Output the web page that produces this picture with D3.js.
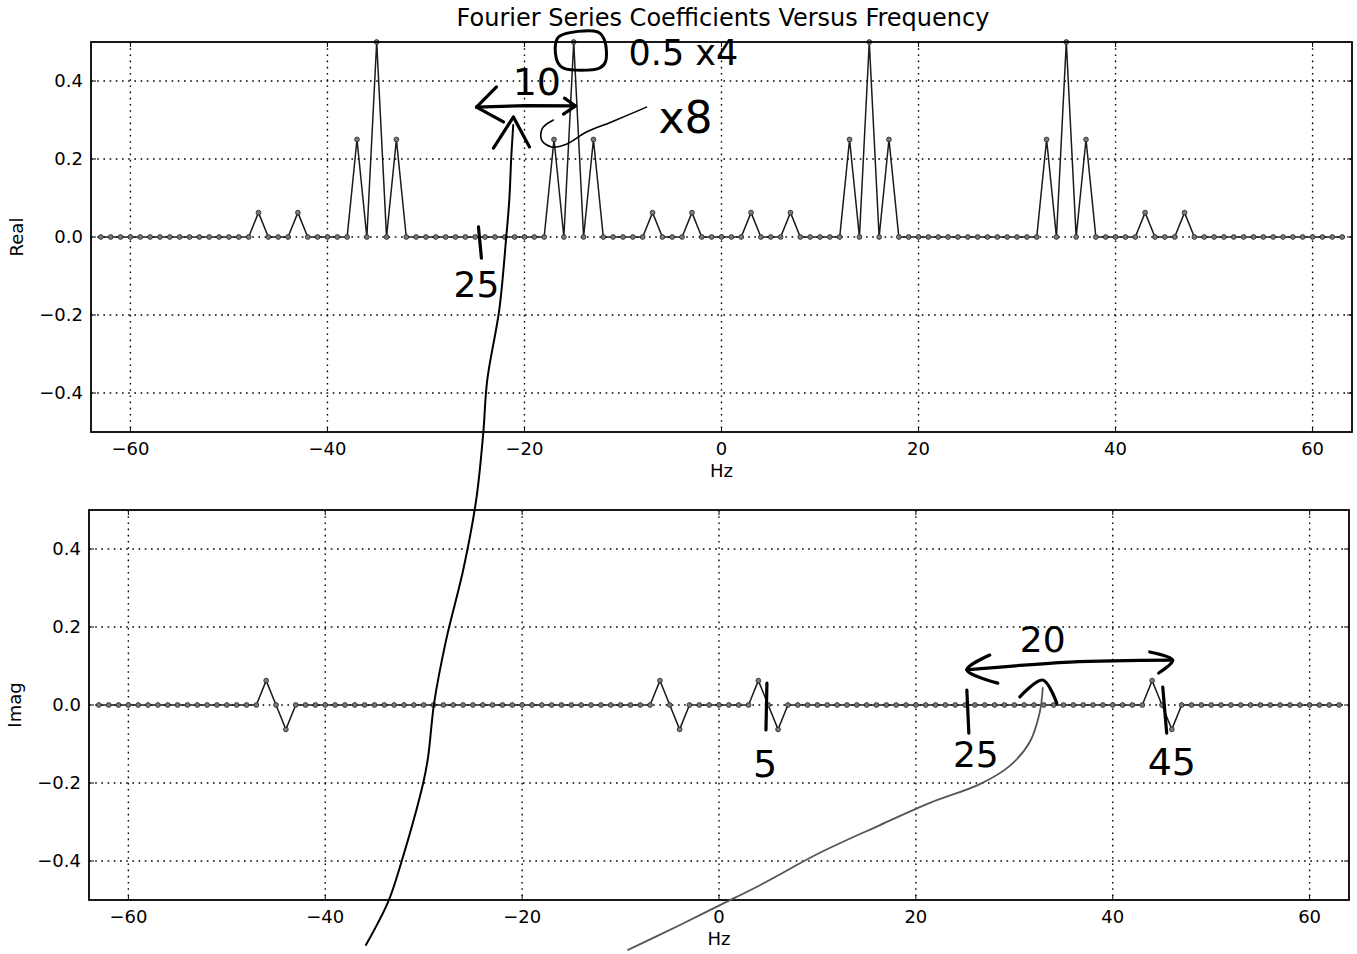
<!DOCTYPE html>
<html>
<head>
<meta charset="utf-8">
<script src="https://cdn.jsdelivr.net/npm/d3@7"></script>
<style>
  body { margin: 0; background: #fff; }
  svg { display: block; }
  text { font-family: "DejaVu Sans", sans-serif; }
</style>
</head>
<body>
<svg id="chart"></svg>
<script>
const width = 1357;
const height = 954;

// frequency bins (1 Hz apart) and the non-zero coefficients
const freqs = d3.range(-63, 64);
const realPeaks = [
  [-47, 0.0625], [-43, 0.0625], [-37, 0.25], [-35, 0.5], [-33, 0.25],
  [-17, 0.25], [-15, 0.5], [-13, 0.25], [-7, 0.0625], [-3, 0.0625],
  [3, 0.0625], [7, 0.0625], [13, 0.25], [15, 0.5], [17, 0.25],
  [33, 0.25], [35, 0.5], [37, 0.25], [43, 0.0625], [47, 0.0625]
];
const imagPeaks = [
  [-46, 0.0625], [-44, -0.0625], [-6, 0.0625], [-4, -0.0625],
  [4, 0.0625], [6, -0.0625], [44, 0.0625], [46, -0.0625]
];
const xTicks = [-60, -40, -20, 0, 20, 40, 60];
const yTicks = [-0.4, -0.2, 0.0, 0.2, 0.4];

// pen marks drawn on the printout, in each panel's data units
const inkTop = [
  [[-24.87, 0.333], [-19.9, 0.337], [-14.92, 0.336]],
  [[-22.84, 0.385], [-24.87, 0.333], [-22.13, 0.295]],
  [[-15.94, 0.356], [-14.82, 0.336], [-16.04, 0.315]],
  [[-23.15, 0.228], [-21.12, 0.308], [-19.49, 0.231]],
  [[-24.67, 0.026], [-24.37, -0.054]]
];
const boxTop = [[-16.45, 0.515], [-12.59, 0.526], [-11.88, 0.505], [-11.78, 0.449],
  [-12.39, 0.433], [-16.04, 0.433], [-16.65, 0.449], [-16.85, 0.495]];
const loopTop = [[-17.06, 0.300], [-18.17, 0.279], [-18.27, 0.249], [-17.26, 0.231],
  [-15.74, 0.238], [-13.71, 0.269], [-11.17, 0.295], [-7.61, 0.333]];
const longTop = [[-36.08, -1.815], [-33.84, -1.705], [-32.52, -1.605], [-30.28, -1.400],
  [-29.78, -1.333], [-29.17, -1.195], [-27.95, -1.033], [-26.22, -0.854], [-24.90, -0.674],
  [-24.19, -0.505], [-23.78, -0.367], [-22.56, -0.187], [-21.85, 0], [-21.54, 0.095],
  [-21.34, 0.205], [-21.14, 0.287]];
const notesTop = [
  {t: "10", x: -21.2, y: 0.364, size: 38},
  {t: "0.5 x4", x: -9.44, y: 0.44, size: 35},
  {t: "x8", x: -6.4, y: 0.267, size: 44},
  {t: "25", x: -27.2, y: -0.154, size: 36}
];

const inkBot = [
  [[4.87, 0.056], [4.77, -0.064]],
  [[25.18, 0.038], [25.38, -0.072]],
  [[45.08, 0.046], [45.48, -0.072]],
  [[25.18, 0.090], [35.63, 0.110], [46.09, 0.115]],
  [[27.51, 0.128], [25.18, 0.090], [28.32, 0.056]],
  [[43.76, 0.136], [46.09, 0.115], [44.67, 0.082]],
  [[30.56, 0.021], [32.89, 0.064], [34.31, 0.005]]
];
const longBot = [[-9.24, -0.628], [-3.96, -0.564], [0.10, -0.513], [4.16, -0.462],
  [10.25, -0.379], [16.35, -0.308], [21.42, -0.251], [26.50, -0.203], [29.54, -0.156],
  [31.57, -0.095], [32.59, -0.018], [32.89, 0.044]];
const notesBot = [
  {t: "5", x: 4.67, y: -0.185, size: 38, anchor: "middle"},
  {t: "25", x: 23.76, y: -0.159, size: 36},
  {t: "45", x: 43.55, y: -0.179, size: 38},
  {t: "20", x: 30.56, y: 0.136, size: 36}
];

const svg = d3.select("#chart")
  .attr("width", width)
  .attr("height", height)
  .attr("viewBox", [0, 0, width, height]);

svg.append("text")
  .attr("x", 723)
  .attr("y", 26)
  .attr("text-anchor", "middle")
  .attr("font-size", 24)
  .text("Fourier Series Coefficients Versus Frequency");

const fmtY = d3.format(".1f");

function drawPanel(spec) {
  const x = d3.scaleLinear([-64, 64], [spec.left, spec.right]);
  const y = d3.scaleLinear([-0.5, 0.5], [spec.bottom, spec.top]);
  const g = svg.append("g");

  // dotted grid
  g.append("g")
    .selectAll("line")
    .data(xTicks)
    .join("line")
    .attr("x1", d => x(d)).attr("x2", d => x(d))
    .attr("y1", spec.top).attr("y2", spec.bottom)
    .attr("stroke", "#000").attr("stroke-width", 1.4)
    .attr("stroke-dasharray", "1.6,4.6");
  g.append("g")
    .selectAll("line")
    .data(yTicks)
    .join("line")
    .attr("x1", spec.left).attr("x2", spec.right)
    .attr("y1", d => y(d)).attr("y2", d => y(d))
    .attr("stroke", "#000").attr("stroke-width", 1.4)
    .attr("stroke-dasharray", "1.6,4.6");

  // inward ticks on all four sides
  const tl = 5;
  g.append("g").selectAll("path").data(xTicks).join("path")
    .attr("d", d => `M${x(d)},${spec.bottom}v${-tl}M${x(d)},${spec.top}v${tl}`)
    .attr("stroke", "#000").attr("stroke-width", 1);
  g.append("g").selectAll("path").data(yTicks).join("path")
    .attr("d", d => `M${spec.left},${y(d)}h${tl}M${spec.right},${y(d)}h${-tl}`)
    .attr("stroke", "#000").attr("stroke-width", 1);

  // tick labels
  g.append("g").selectAll("text").data(xTicks).join("text")
    .attr("x", d => x(d))
    .attr("y", spec.bottom + 23)
    .attr("text-anchor", "middle")
    .attr("font-size", 18)
    .text(d => d3.format("d")(d));
  g.append("g").selectAll("text").data(yTicks).join("text")
    .attr("x", spec.left - 8)
    .attr("y", d => y(d) + 6)
    .attr("text-anchor", "end")
    .attr("font-size", 18)
    .text(d => fmtY(d));

  g.append("text")
    .attr("x", (spec.left + spec.right) / 2)
    .attr("y", spec.bottom + 45)
    .attr("text-anchor", "middle")
    .attr("font-size", 18)
    .text("Hz");
  g.append("text")
    .attr("transform", `translate(${spec.left - 68},${y(0)}) rotate(-90)`)
    .attr("text-anchor", "middle")
    .attr("font-size", 18)
    .text(spec.label);

  // series
  const lookup = new Map(spec.peaks);
  const data = freqs.map(f => [f, lookup.get(f) || 0]);
  const line = d3.line().x(d => x(d[0])).y(d => y(d[1]));
  g.append("path")
    .datum(data)
    .attr("d", line)
    .attr("fill", "none")
    .attr("stroke", "#1a1a1a")
    .attr("stroke-width", 1.5);
  g.append("g")
    .selectAll("circle")
    .data(data)
    .join("circle")
    .attr("cx", d => x(d[0]))
    .attr("cy", d => y(d[1]))
    .attr("r", 2.4)
    .attr("fill", "#7a7a7a")
    .attr("stroke", "#222")
    .attr("stroke-width", 0.8);

  // frame
  g.append("rect")
    .attr("x", spec.left).attr("y", spec.top)
    .attr("width", spec.right - spec.left)
    .attr("height", spec.bottom - spec.top)
    .attr("fill", "none")
    .attr("stroke", "#000")
    .attr("stroke-width", 1.8);

  return {x, y};
}

const topPanel = drawPanel({left: 91, right: 1352, top: 42, bottom: 432, label: "Real", peaks: realPeaks});
const botPanel = drawPanel({left: 89, right: 1349, top: 510, bottom: 900, label: "Imag", peaks: imagPeaks});

// handwriting layer
function ink(sc, strokes, width, curve, color) {
  const pen = d3.line().x(d => sc.x(d[0])).y(d => sc.y(d[1])).curve(curve);
  svg.append("g")
    .selectAll("path")
    .data(strokes)
    .join("path")
    .attr("d", pen)
    .attr("fill", "none")
    .attr("stroke", color || "#000")
    .attr("stroke-width", width)
    .attr("stroke-linecap", "round")
    .attr("stroke-linejoin", "round");
}
function notes(sc, list) {
  svg.append("g")
    .selectAll("text")
    .data(list)
    .join("text")
    .attr("x", d => sc.x(d.x))
    .attr("y", d => sc.y(d.y))
    .attr("text-anchor", d => d.anchor || "start")
    .attr("font-family", "'Open Sans', sans-serif")
    .attr("font-size", d => d.size)
    .text(d => d.t);
}

ink(topPanel, inkTop, 3.2, d3.curveLinear);
ink(topPanel, [boxTop], 3, d3.curveCatmullRomClosed);
ink(topPanel, [loopTop], 1.6, d3.curveCatmullRom);
ink(topPanel, [longTop], 2, d3.curveCatmullRom);
notes(topPanel, notesTop);

ink(botPanel, inkBot, 3.2, d3.curveCatmullRom);
ink(botPanel, [longBot], 1.8, d3.curveCatmullRom, "#555");
notes(botPanel, notesBot);
</script>
</body>
</html>
